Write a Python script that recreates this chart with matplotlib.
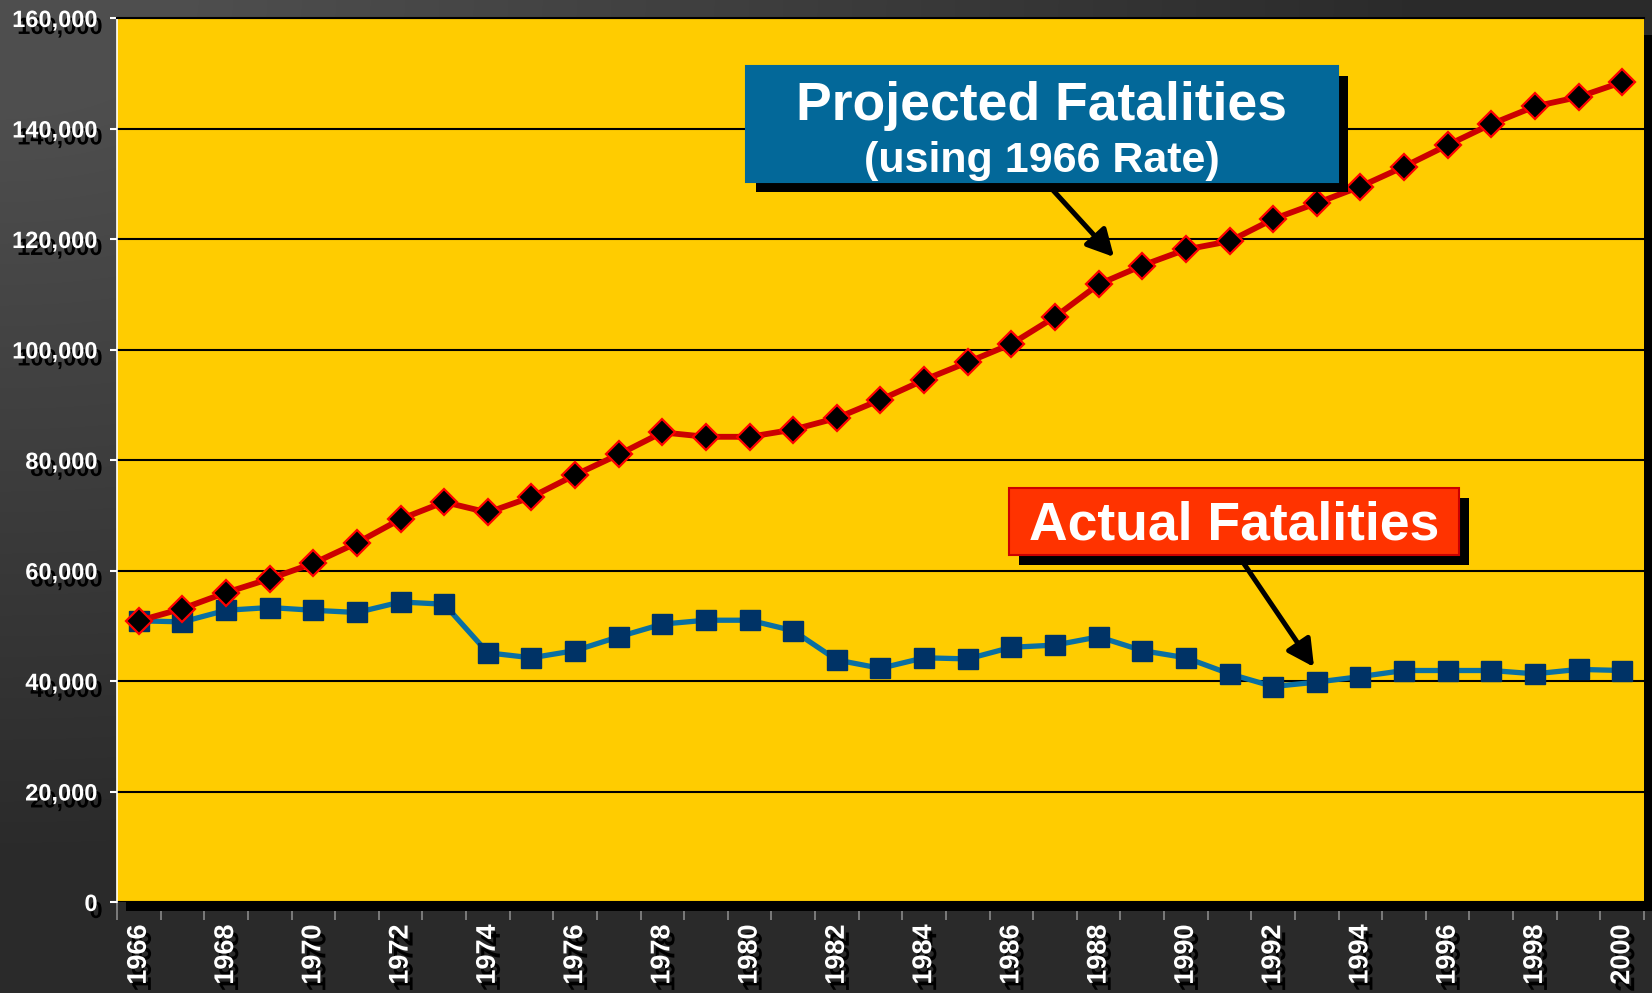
import numpy as np
import matplotlib
matplotlib.use("Agg")
import matplotlib.pyplot as plt
from matplotlib.patches import Rectangle, FancyArrowPatch
import matplotlib.patheffects as pe

plt.rcParams['font.family'] = ['Liberation Sans', 'DejaVu Sans']

years = list(range(1966, 2001))
projected = [50900, 53100, 56000, 58500, 61300, 65000, 69300, 72400, 70500, 73300,
             77300, 81000, 85000, 84200, 84200, 85500, 87600, 90900, 94500, 97700,
             101000, 105900, 111800, 115200, 118100, 119600, 123600, 126500, 129500,
             133100, 137000, 140800, 144000, 145700, 148400]
actual = [50900, 50700, 52800, 53300, 52800, 52400, 54300, 53900, 45100, 44200,
          45500, 48000, 50300, 51000, 51000, 49100, 43800, 42300, 44200, 44000,
          46100, 46500, 48000, 45500, 44200, 41300, 39000, 39800, 40800, 41900,
          41900, 41900, 41300, 42100, 41900]
y_ticks = [0, 20000, 40000, 60000, 80000, 100000, 120000, 140000, 160000]
label_projected = ["Projected Fatalities", "(using 1966 Rate)"]
label_actual = "Actual Fatalities"

W, H = 1652, 993
DPI = 100
fig = plt.figure(figsize=(W / DPI, H / DPI), dpi=DPI)
fig.patch.set_facecolor('#2a2a2a')

# background gradient
xs = np.linspace(0, 1, W)[None, :]
ys = np.linspace(0, 1, H)[:, None]
d = np.sqrt(xs ** 2 + ys ** 2)
t = np.clip((d - 0.12) / 0.75, 0, 1)
c = (0x4e * (1 - t) + 0x2a * t) / 255.0
img = np.dstack([c, c, c])
fig.figimage(img, 0, 0, origin='upper', zorder=-10)

L, R, T, B = 117, 1644, 18, 902
ax = fig.add_axes([L / W, 1 - B / H, (R - L) / W, (B - T) / H])
ax.set_facecolor('#FFCC00')

x = np.arange(len(years))
ax.plot(x, actual, color='#0A6FA3', lw=3.8, marker='s', ms=14,
        mfc='#003366', mec='#003366', mew=1, zorder=4)
ax.plot(x, projected, color='#CC0000', lw=4.2, marker='D', ms=13,
        mfc='black', mec='#FF0000', mew=1.6, zorder=5)

ax.set_xlim(-0.5, len(years) - 0.5)
ax.set_ylim(0, 160000)

shadow = [pe.SimplePatchShadow(offset=(3.6, -5), shadow_rgbFace='black', alpha=1.0), pe.Normal()]

ax.set_yticks(y_ticks)
ax.set_yticklabels([f"{v:,}" for v in y_ticks])
ax.tick_params(axis='y', colors='white', length=5, width=1.5, pad=9, labelsize=17)
for lab in ax.get_yticklabels():
    lab.set_fontweight('bold')
    lab.set_path_effects(shadow)

ax.set_xticks(np.arange(len(years) + 1) - 0.5)
ax.set_xticklabels([])
ax.tick_params(axis='x', which='major', colors='#8a8a8a', length=13, width=1.2)
ax.set_xticks(x[::2], minor=True)
ax.set_xticklabels([str(y) for y in years[::2]], minor=True, rotation=90)
ax.tick_params(axis='x', which='minor', length=0, pad=16, labelsize=19.5, labelcolor='white')
for lab in ax.get_xticklabels(minor=True):
    lab.set_fontweight('bold')
    lab.set_path_effects(shadow)
    lab.set_va('top')

ax.yaxis.grid(True, color='black', lw=1.5, zorder=1)
ax.set_axisbelow(True)
for s in ['right', 'bottom']:
    ax.spines[s].set_visible(False)
ax.spines['top'].set_color('black')
ax.spines['top'].set_linewidth(1.5)
ax.spines['left'].set_color('white')
ax.spines['left'].set_linewidth(1.2)

# plot-area drop shadow bands
aw, ah = R - L, B - T
off = 9
ax.add_patch(Rectangle((off / aw, -off / ah), 1, off / ah, transform=ax.transAxes,
                       facecolor='black', edgecolor='none', clip_on=False, zorder=2.6))
ax.add_patch(Rectangle((1, -off / ah), off / aw, 1 - 8 / ah,
                       transform=ax.transAxes, facecolor='black', edgecolor='none',
                       clip_on=False, zorder=2.6))


def fx(px):
    return px / W


def fy(py):
    return 1 - py / H


def box(x0, y0, x1, y1, face, edge, zo):
    fig.add_artist(Rectangle((fx(x0 + 10), fy(y1 + 10)), (x1 - x0) / W, (y1 - y0) / H,
                             transform=fig.transFigure, facecolor='black',
                             edgecolor='none', zorder=zo))
    fig.add_artist(Rectangle((fx(x0), fy(y1)), (x1 - x0) / W, (y1 - y0) / H,
                             transform=fig.transFigure, facecolor=face,
                             edgecolor=edge, lw=1.5, zorder=zo + 1))


def arrow(x0, y0, x1, y1):
    fig.add_artist(FancyArrowPatch((fx(x0), fy(y0)), (fx(x1), fy(y1)),
                                   transform=fig.transFigure,
                                   arrowstyle='-|>,head_length=0.95,head_width=0.5',
                                   mutation_scale=17, lw=3.6, color='black',
                                   shrinkA=0, shrinkB=0, zorder=5))


arrow(1040, 176, 1114, 257)
arrow(1236, 552, 1314, 667)

box(746, 66, 1338, 182, '#036899', '#036899', 6)
fig.text(fx(1042), fy(106), label_projected[0], color='white', fontsize=38.5,
         fontweight='bold', ha='center', va='center', zorder=9)
fig.text(fx(1042), fy(161), label_projected[1], color='white', fontsize=31,
         fontweight='bold', ha='center', va='center', zorder=9)

box(1009, 488, 1459, 555, '#FF3300', '#CC0000', 6)
fig.text(fx(1234), fy(526), label_actual, color='white', fontsize=38.5,
         fontweight='bold', ha='center', va='center', zorder=9)

fig.savefig('out.png', dpi=DPI, facecolor=fig.get_facecolor())
